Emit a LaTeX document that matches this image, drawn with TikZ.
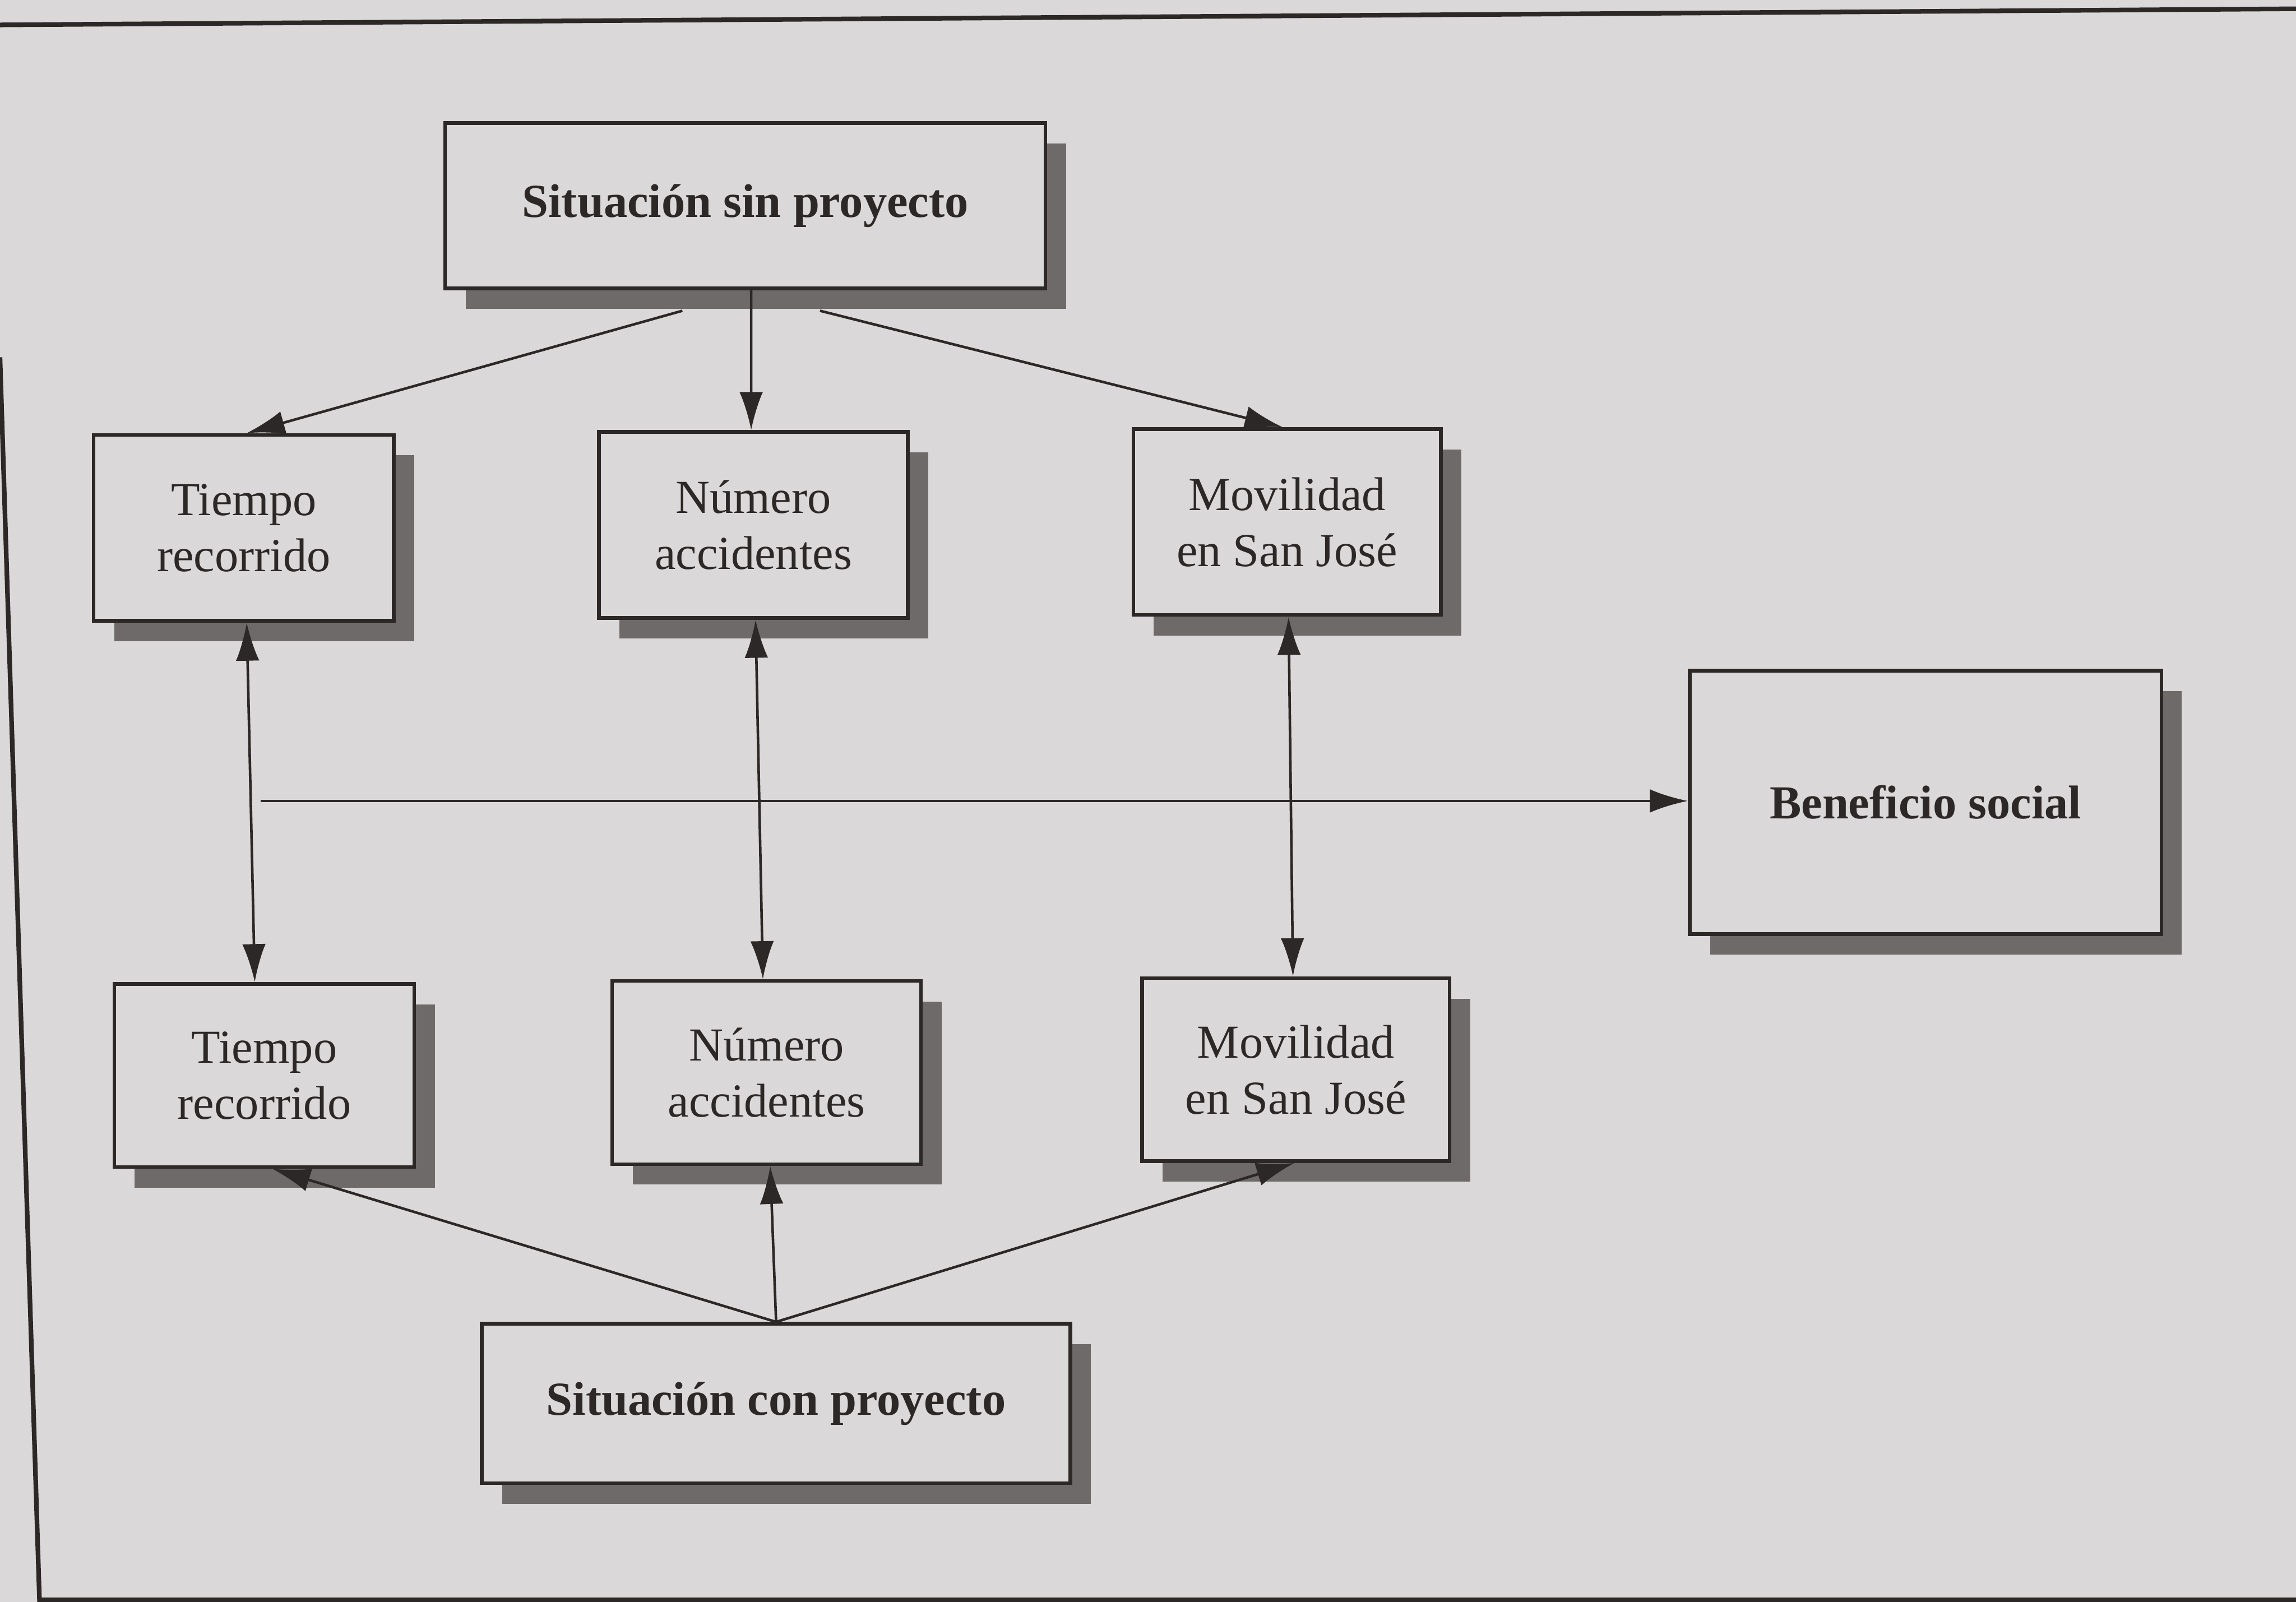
\documentclass[tikz,border=0pt]{standalone}
\usepackage{fontspec}
\setmainfont{Liberation Serif}
\usetikzlibrary{shadows,calc,arrows.meta}

\definecolor{paper}{HTML}{DAD8D8}
\definecolor{ink}{HTML}{2C2828}
\definecolor{shade}{HTML}{6E6A6A}

\tikzset{
  box/.style={draw=ink, line width=0.7pt, fill=paper, text=ink,
    align=center, inner sep=0pt,
    font=\fontsize{9.2}{10.9}\selectfont,
    drop shadow={shadow xshift=0.14cm, shadow yshift=-0.14cm,
      fill=shade, opacity=1}},
  title/.style={box, font=\fontsize{9.2}{10.9}\selectfont\bfseries},
  link/.style={draw=ink, line width=0.5pt, -{Latex[length=2.6mm,width=1.6mm]}},
  twoway/.style={draw=ink, line width=0.5pt,
    {Latex[length=2.6mm,width=1.6mm]}-{Latex[length=2.6mm,width=1.6mm]}},
  frame/.style={draw=ink, line width=0.9pt}
}

\begin{document}
\begin{tikzpicture}[x=1cm,y=1cm]
  % page and background
  \fill[paper] (0,0) rectangle (15.68,-10.94);
  \useasboundingbox (0,0) rectangle (15.68,-10.94);

  % frame around the figure
  \draw[frame] (0,-0.17) -- (15.68,-0.06);
  \draw[frame] (0,-2.44) -- (0.27,-10.94);
  \draw[frame] (0.26,-10.925) -- (15.68,-10.925);

  % top: situation without the project
  \node[title, minimum width=4.10cm, minimum height=1.13cm]
    (A) at (5.09,-1.405) {Situación sin proyecto};

  % first row of effects
  \node[box, minimum width=2.05cm, minimum height=1.27cm]
    (T1) at (1.665,-3.605) {Tiempo\\recorrido};
  \node[box, minimum width=2.11cm, minimum height=1.27cm]
    (N1) at (5.145,-3.585) {Número\\accidentes};
  \node[box, minimum width=2.10cm, minimum height=1.27cm]
    (M1) at (8.79,-3.565) {Movilidad\\en San José};

  % social benefit
  \node[title, minimum width=3.22cm, minimum height=1.80cm]
    (B) at (13.15,-5.48) {Beneficio social};

  % second row of effects
  \node[box, minimum width=2.05cm, minimum height=1.25cm]
    (T2) at (1.805,-7.345) {Tiempo\\recorrido};
  \node[box, minimum width=2.11cm, minimum height=1.25cm]
    (N2) at (5.235,-7.325) {Número\\accidentes};
  \node[box, minimum width=2.10cm, minimum height=1.25cm]
    (M2) at (8.85,-7.305) {Movilidad\\en San José};

  % bottom: situation with the project
  \node[title, minimum width=4.02cm, minimum height=1.09cm]
    (C) at (5.30,-9.585) {Situación con proyecto};

  % arrows leaving the top box
  \draw[link] ($(A.south)+(-0.43,-0.14)$) -- ($(T1.north)+(0.02,0)$);
  \draw[link] ($(A.south)+(0.04,0)$) -- ($(N1.north)+(-0.015,0)$);
  \draw[link] ($(A.south)+(0.51,-0.14)$) -- ($(M1.north)+(-0.03,0)$);

  % links between both rows
  \draw[twoway] ($(T1.south)+(0.02,0)$) -- ($(T2.north)+(-0.065,0)$);
  \draw[twoway] ($(N1.south)+(0.015,0)$) -- ($(N2.north)+(-0.025,0)$);
  \draw[twoway] ($(M1.south)+(0.01,0)$) -- ($(M2.north)+(-0.02,0)$);

  % arrow towards the social benefit
  \coordinate (hstart) at (1.78,-5.47);
  \draw[link] (hstart) -- (hstart -| B.west);

  % arrows leaving the bottom box
  \draw[link] (C.north) -- ($(T2.south)+(0.055,0)$);
  \draw[link] (C.north) -- ($(N2.south)+(0.025,0)$);
  \draw[link] (C.north) -- ($(M2.south)+(-0.01,0)$);
\end{tikzpicture}
\end{document}
